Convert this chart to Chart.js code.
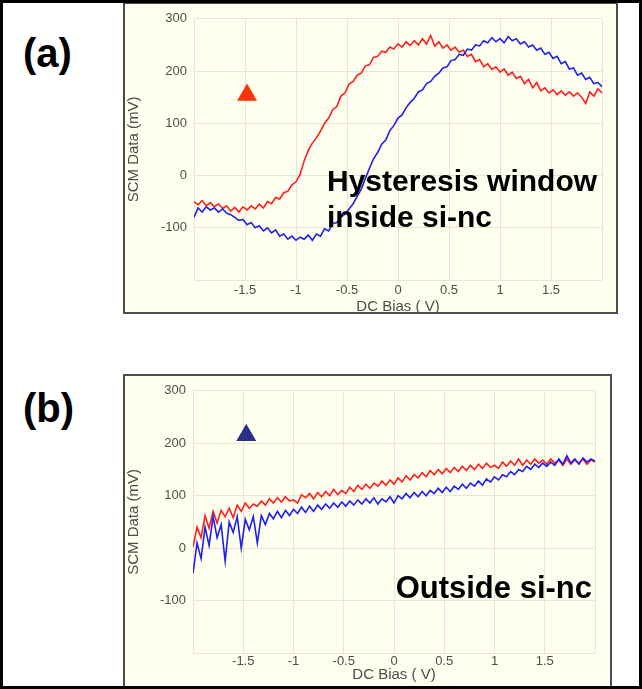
<!DOCTYPE html>
<html>
<head>
<meta charset="utf-8">
<script src="https://cdn.jsdelivr.net/npm/chart.js@4.4.1/dist/chart.umd.min.js"></script>
<style>
  body { margin: 0; background: #fff; }
  #page { position: relative; width: 642px; height: 689px; overflow: hidden; background: #fff; font-family: "Liberation Sans", Arial, sans-serif; }
  .frame { position: absolute; box-sizing: border-box; border: 2px solid #4d4d4d; background: #fffff0; }
  .frame canvas { display: block; }
  .tag { position: absolute; left: 23px; font: bold 40px/40px "Liberation Sans", Arial, sans-serif; color: #000; }
  .note { position: absolute; font: bold 30px/36px "Liberation Sans", Arial, sans-serif; color: #000; white-space: nowrap; }
  #edge { position: absolute; left: 0; top: 0; width: 642px; height: 689px; box-sizing: border-box; border: 3px solid #000; z-index: 5; }
</style>
</head>
<body>
<div id="page">
  <div class="tag" style="top:33px">(a)</div>
  <div class="frame" style="left:123px; top:2px; width:495px; height:312px">
    <canvas id="chartA" width="491" height="308"></canvas>
  </div>
  <div class="note" style="left:327px; top:163px">Hysteresis window<br>inside si-nc</div>

  <div class="tag" style="top:388px">(b)</div>
  <div class="frame" style="left:123px; top:374px; width:489px; height:314px">
    <canvas id="chartB" width="485" height="310"></canvas>
  </div>
  <div class="note" style="right:50px; top:570px; font-size:31px">Outside si-nc</div>

  <div id="edge"></div>
</div>
<script>
// DC bias sweep (V), shared by all four curves
const biasV = [
  -2.00,-1.96,-1.92,-1.88,-1.84,-1.80,-1.76,-1.72,-1.68,-1.64,
  -1.60,-1.56,-1.52,-1.48,-1.44,-1.40,-1.36,-1.32,-1.28,-1.24,
  -1.20,-1.16,-1.12,-1.08,-1.04,-1.00,-0.96,-0.92,-0.88,-0.84,
  -0.80,-0.76,-0.72,-0.68,-0.64,-0.60,-0.56,-0.52,-0.48,-0.44,
  -0.40,-0.36,-0.32,-0.28,-0.24,-0.20,-0.16,-0.12,-0.08,-0.04,
  0.00,0.04,0.08,0.12,0.16,0.20,0.24,0.28,0.32,0.36,
  0.40,0.44,0.48,0.52,0.56,0.60,0.64,0.68,0.72,0.76,
  0.80,0.84,0.88,0.92,0.96,1.00,1.04,1.08,1.12,1.16,
  1.20,1.24,1.28,1.32,1.36,1.40,1.44,1.48,1.52,1.56,
  1.60,1.64,1.68,1.72,1.76,1.80,1.84,1.88,1.92,1.96,
  2.00
];

// (a) inside si-nc, SCM data (mV)
const redA = [
  -50,-56,-48,-58,-52,-60,-54,-63,-58,-68,
  -61,-70,-60,-66,-58,-64,-55,-62,-50,-54,
  -42,-45,-33,-30,-18,-12,2,28,48,62,
  72,85,100,110,126,132,152,158,175,180,
  192,196,210,212,226,228,238,236,246,242,
  252,246,256,249,258,250,262,252,268,248,
  256,244,250,240,246,236,240,228,232,218,
  222,208,214,203,208,198,204,192,198,186,
  190,176,184,168,178,162,168,158,164,155,
  162,154,160,152,158,150,138,160,152,166,
  158
];
const blueA = [
  -80,-62,-70,-60,-66,-62,-70,-64,-72,-75,
  -80,-86,-84,-94,-90,-100,-96,-106,-100,-110,
  -104,-116,-112,-122,-116,-124,-118,-122,-114,-124,
  -112,-116,-102,-106,-92,-90,-80,-74,-64,-54,
  -40,-26,-6,14,32,44,60,68,86,96,
  110,116,130,140,148,160,164,176,180,190,
  196,206,208,220,222,232,230,242,240,250,
  248,258,254,264,256,262,254,266,258,262,
  252,256,246,250,240,244,232,236,224,228,
  214,218,204,206,192,196,184,188,176,178,
  170
];

// (b) outside si-nc, SCM data (mV)
const redB = [
  2,40,20,62,38,70,48,72,60,76,
  58,82,70,86,76,84,80,90,82,94,
  86,96,88,98,90,92,86,102,96,104,
  94,106,98,108,100,112,102,110,104,116,
  108,120,112,122,114,124,118,128,120,130,
  122,134,126,138,130,140,134,144,136,148,
  140,150,142,152,144,154,146,156,148,158,
  150,160,152,162,154,158,152,164,156,166,
  158,170,158,168,160,170,162,168,160,170,
  162,168,158,170,160,168,162,170,160,168,
  164
];
const blueB = [
  -48,10,-20,40,5,60,20,45,-25,50,
  30,60,0,55,35,60,10,62,45,66,
  56,70,58,72,62,74,66,78,68,80,
  70,82,74,84,76,86,78,88,80,90,
  82,92,84,94,86,96,84,94,88,98,
  86,100,94,104,96,106,98,108,100,110,
  104,114,106,116,108,118,112,122,114,124,
  118,128,120,132,126,136,130,140,136,146,
  140,150,146,156,150,160,154,162,156,164,
  158,170,160,176,162,170,160,172,164,170,
  166
];

// triangle markers [bias, mV]
const markerA = [-1.48, 154];
const markerB = [-1.47, 215];

const xTickLabels = [-1.5, -1, -0.5, 0, 0.5, 1, 1.5];
const yTickLabels = [300, 200, 100, 0, -100];

const fam = '"Liberation Sans", Arial, sans-serif';

function panel(id, red, blue, marker, markerColor, g) {
  return new Chart(document.getElementById(id), {
    type: 'scatter',
    data: {
      datasets: [
        {
          data: [{ x: marker[0], y: marker[1] }],
          pointStyle: 'triangle',
          pointRadius: 11.5,
          backgroundColor: markerColor,
          borderWidth: 0,
          showLine: false
        },
        {
          data: biasV.map((v, i) => ({ x: v, y: blue[i] })),
          showLine: true,
          borderColor: '#1f1fee',
          borderWidth: 1.6,
          pointRadius: 0,
          tension: 0
        },
        {
          data: biasV.map((v, i) => ({ x: v, y: red[i] })),
          showLine: true,
          borderColor: '#ff1f1f',
          borderWidth: 1.6,
          pointRadius: 0,
          tension: 0
        }
      ]
    },
    options: {
      responsive: false,
      animation: false,
      devicePixelRatio: 1,
      layout: { padding: { left: 0, right: g.padRight, top: g.padTop, bottom: 0 } },
      plugins: { legend: { display: false }, tooltip: { enabled: false } },
      scales: {
        x: {
          type: 'linear',
          min: -2,
          max: 2,
          ticks: {
            stepSize: 0.5,
            padding: g.tickPad,
            autoSkip: false,
            maxRotation: 0,
            color: '#4d4d4d',
            font: { size: 13, family: fam },
            callback: v => xTickLabels.includes(v) ? String(v) : ''
          },
          grid: { color: '#e8e5d2', lineWidth: 1, drawTicks: false },
          border: { display: false },
          title: {
            display: true,
            text: 'DC Bias ( V)',
            color: '#4d4d4d',
            font: { size: 15, family: fam },
            padding: { top: 0, bottom: g.titlePad }
          },
          afterFit: s => { s.height = g.xAxisH; }
        },
        y: {
          min: -200,
          max: 300,
          ticks: {
            stepSize: 100,
            padding: 7,
            color: '#4d4d4d',
            font: { size: 13, family: fam },
            callback: v => yTickLabels.includes(v) ? String(v) : ''
          },
          grid: { color: '#e8e5d2', lineWidth: 1, drawTicks: false },
          border: { display: false },
          title: {
            display: true,
            text: 'SCM Data (mV)',
            color: '#4d4d4d',
            font: { size: 15, family: fam },
            padding: { top: 0, bottom: 0 }
          },
          afterFit: s => { s.width = g.yAxisW; }
        }
      }
    }
  });
}

panel('chartA', redA, blueA, markerA, '#ff3300',
  { padRight: 14, padTop: 14, yAxisW: 69, xAxisH: 32, tickPad: 3, titlePad: -4 });
panel('chartB', redB, blueB, markerB, '#2b2e8c',
  { padRight: 15, padTop: 13, yAxisW: 68, xAxisH: 33, tickPad: 1, titlePad: 2 });
</script>
</body>
</html>
